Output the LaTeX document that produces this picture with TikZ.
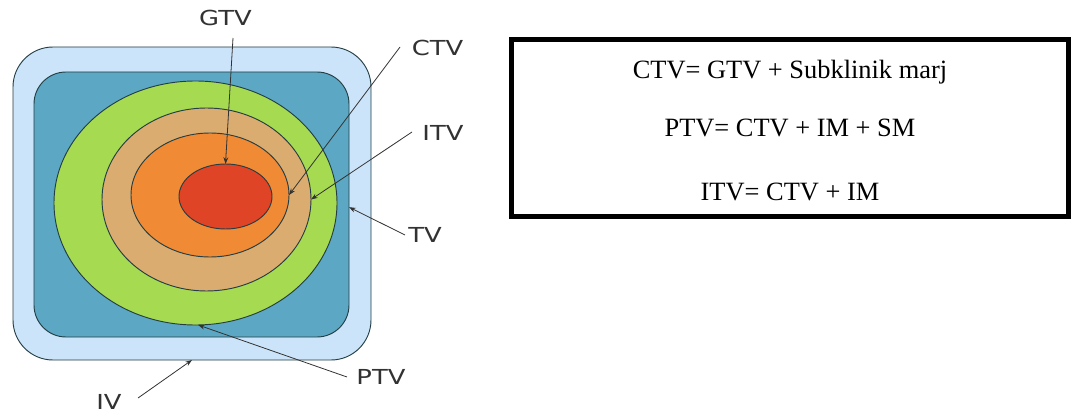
\documentclass[tikz,border=0pt]{standalone}
\usepackage{fontspec}
\setmainfont{Liberation Serif}
\setsansfont{DejaVu Sans}
\usepackage{tikz}
\usetikzlibrary{shapes.geometric, arrows.meta, positioning}
\definecolor{ivblue}{RGB}{204, 228, 250}
\definecolor{tvteal}{RGB}{92, 168, 196}
\definecolor{ptvgreen}{RGB}{166, 218, 80}
\definecolor{itvtan}{RGB}{218, 172, 112}
\definecolor{ctvorange}{RGB}{240, 138, 52}
\definecolor{gtvred}{RGB}{224, 68, 38}
\definecolor{rimgray}{RGB}{35, 62, 68}
\definecolor{labelgray}{RGB}{50, 50, 50}

\begin{document}
\begin{tikzpicture}[
    x=0.75pt, y=-0.75pt,
    vol/.style={draw=rimgray, line width=0.7pt, inner sep=0pt, outer sep=0pt},
    roundvol/.style={vol, rectangle, rounded corners=30pt},
    ovalvol/.style={vol, ellipse},
    lbl/.style={font=\sffamily\fontsize{15.5}{18}\selectfont, text=labelgray, inner sep=1pt},
    ptr/.style={-{Stealth[length=5pt, width=3.6pt]}, draw=labelgray, line width=0.6pt},
    eqbox/.style={rectangle, draw=black, line width=3.75pt, fill=white,
                  minimum width=417.75pt, minimum height=132.4pt},
    eq/.style={font=\fontsize{19.8}{24}\selectfont, anchor=base, inner sep=0pt}
]
\useasboundingbox (0,0) rectangle (1079,417);

% nested volumes, outside in
\node[roundvol, fill=ivblue, minimum width=268.5pt, minimum height=234.75pt] (iv) at (192,203.5) {};
\node[roundvol, fill=tvteal, rounded corners=24pt, minimum width=236.25pt, minimum height=198.75pt] (tv) at (191.5,204.5) {};
\node[ovalvol, fill=ptvgreen, minimum width=212.25pt, minimum height=183pt] (ptv) at (195.5,203) {};
\node[ovalvol, fill=itvtan, minimum width=156.75pt, minimum height=137.25pt] (itv) at (206.5,199.5) {};
\node[ovalvol, fill=ctvorange, minimum width=118.5pt, minimum height=93pt] (ctv) at (210,195) {};
\node[ovalvol, fill=gtvred, minimum width=69.75pt, minimum height=48.75pt] (gtv) at (225.5,196.5) {};

% labels
\node[lbl] (gtvtxt) at (225.5,17.5) {\scalebox{1.25}[1]{GTV}};
\node[lbl] (ctvtxt) at (437.5,48) {\scalebox{1.25}[1]{CTV}};
\node[lbl] (itvtxt) at (443,133) {\scalebox{1.25}[1]{ITV}};
\node[lbl] (tvtxt) at (425,235) {\scalebox{1.25}[1]{TV}};
\node[lbl] (ptvtxt) at (381,377) {\scalebox{1.25}[1]{PTV}};
\node[lbl] (ivtxt) at (109,402) {\scalebox{1.25}[1]{IV}};

\coordinate (gtvfrom) at (233,38);
\coordinate (ctvfrom) at (400,47);
\coordinate (itvfrom) at (412,132);
\coordinate (tvfrom) at (405,235);
\coordinate (ptvfrom) at (347,377);
\coordinate (ivfrom) at (138,398);

\draw[ptr] (gtvfrom) -- (gtv.north);
\draw[ptr] (ctvfrom) -- (ctv.east);
\draw[ptr] (itvfrom) -- (itv.east);
\draw[ptr] (tvfrom) -- ([yshift=-2pt]tv.east);
\draw[ptr] (ptvfrom) -- ([xshift=2pt]ptv.south);
\draw[ptr] (ivfrom) -- (iv.south);

% margin formulas
\node[eqbox] (formulas) at (789.5,127.75) {};
\node[eq] (ctveq) at (790,79) {CTV= GTV + Subklinik marj};
\node[eq] (ptveq) at (790,137) {PTV= CTV + IM + SM};
\node[eq] (itveq) at (790,201) {ITV= CTV + IM};

\end{tikzpicture}
\end{document}
